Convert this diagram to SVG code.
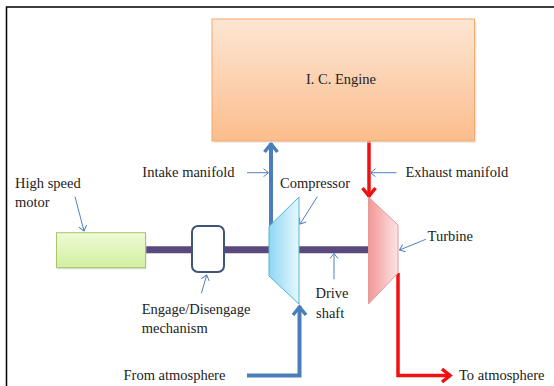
<svg xmlns="http://www.w3.org/2000/svg" width="554" height="386" viewBox="0 0 554 386">
<defs>
<style>
text{font-family:"Liberation Serif","DejaVu Serif","Times New Roman",serif;font-size:14.5px;fill:#222222}
.ptr{stroke:#4f81bd;stroke-width:1;fill:none}
.blue{stroke:#4a7ebb;stroke-width:4;fill:none}
.red{stroke:#f01010;stroke-width:3.5;fill:none}
.shaft{stroke:#5a4a7c;stroke-width:7;fill:none}
</style>
<linearGradient id="gEng" x1="0" y1="0" x2="0" y2="1"><stop offset="0" stop-color="#fde6d4"/><stop offset="1" stop-color="#fbbd8c"/></linearGradient>
<linearGradient id="gMot" x1="0" y1="0" x2="0" y2="1"><stop offset="0" stop-color="#eefad6"/><stop offset="1" stop-color="#d2f0a0"/></linearGradient>
<linearGradient id="gCmp" x1="0" y1="0" x2="1" y2="0"><stop offset="0" stop-color="#8fd8f2"/><stop offset="1" stop-color="#e6f8fe"/></linearGradient>
<linearGradient id="gTrb" x1="0" y1="0" x2="1" y2="0"><stop offset="0" stop-color="#f49696"/><stop offset="1" stop-color="#fde4e4"/></linearGradient>
<marker id="mPtr" viewBox="-6 -5 7 10" refX="0" refY="0" markerWidth="7" markerHeight="10" markerUnits="userSpaceOnUse" orient="auto"><path d="M-5,-4 L0,0 L-5,4" fill="none" stroke="#4f81bd" stroke-width="1"/></marker>
<marker id="mBlue" viewBox="-12 -9 14 18" refX="0" refY="0" markerWidth="14" markerHeight="18" markerUnits="userSpaceOnUse" orient="auto"><path d="M-9,-6.5 L-1,0 L-9,6.5" fill="none" stroke="#4a7ebb" stroke-width="3.5"/></marker>
<marker id="mRed" viewBox="-12 -9 14 18" refX="0" refY="0" markerWidth="14" markerHeight="18" markerUnits="userSpaceOnUse" orient="auto"><path d="M-9,-6.5 L-1,0 L-9,6.5" fill="none" stroke="#f01010" stroke-width="3.5"/></marker>
</defs>
<rect width="554" height="386" fill="#ffffff"/>
<path d="M6.5,386 V7 H554" fill="none" stroke="#000" stroke-width="1.5"/>

<g id="connectors">
<path class="shaft" d="M146,249.7 H270"/>
<path class="shaft" d="M299,249.7 H369"/>
<path class="blue" d="M271,228 V143" marker-end="url(#mBlue)"/>
<path class="blue" d="M247,375.5 H299.5 V306" marker-end="url(#mBlue)"/>
<path class="red" d="M369,141 V197" marker-end="url(#mRed)"/>
<path class="red" d="M398,273 V375.5 H451" marker-end="url(#mRed)"/>
<path class="ptr" d="M247,172.7 H268.5" marker-end="url(#mPtr)"/>
<path class="ptr" d="M396.5,172.7 H370.5" marker-end="url(#mPtr)"/>
<path class="ptr" d="M75,196.7 L84,231" marker-end="url(#mPtr)"/>
<path class="ptr" d="M317.3,196.7 L300,224" marker-end="url(#mPtr)"/>
<path class="ptr" d="M425.8,239.3 L399.5,250" marker-end="url(#mPtr)"/>
<path class="ptr" d="M334,279.3 V253.5" marker-end="url(#mPtr)"/>
<path class="ptr" d="M201.4,293.3 L206.7,275" marker-end="url(#mPtr)"/>
</g>

<g id="engine">
<rect x="214" y="21" width="262.5" height="122" fill="#dddddd" opacity="0.6"/>
<rect x="212" y="19" width="262.5" height="122" fill="url(#gEng)" stroke="#f3a86a" stroke-width="1"/>
<text x="341" y="84" text-anchor="middle">I. C. Engine</text>
</g>

<g id="motor">
<rect x="57.5" y="234.2" width="89" height="35" fill="#cccccc" opacity="0.6"/>
<rect x="56.5" y="232.7" width="89" height="35" fill="url(#gMot)" stroke="#a9c46c" stroke-width="1"/>
</g>

<g id="clutch">
<rect x="192" y="226" width="32" height="46" rx="6" fill="#ffffff" stroke="#3e5577" stroke-width="2"/>
</g>

<g id="compressor">
<polygon points="269,226.5 299,197 299,304 269,276" fill="url(#gCmp)" stroke="#52b2d6" stroke-width="1"/>
</g>

<g id="turbine">
<polygon points="368.5,197 398,225 398,273 368.5,304" fill="url(#gTrb)" stroke="#e39a9a" stroke-width="1"/>
</g>

<g id="labels">
<text x="15" y="187.5">High speed</text>
<text x="15" y="207">motor</text>
<text x="142.3" y="177.3">Intake manifold</text>
<text x="280" y="188">Compressor</text>
<text x="405.5" y="177.3">Exhaust manifold</text>
<text x="427.6" y="240.7">Turbine</text>
<text x="315.5" y="297.7">Drive</text>
<text x="316" y="318.3">shaft</text>
<text x="141.7" y="314">Engage/Disengage</text>
<text x="141.7" y="333.3">mechanism</text>
<text x="123.5" y="380">From atmosphere</text>
<text x="459" y="380">To atmosphere</text>
</g>
</svg>
